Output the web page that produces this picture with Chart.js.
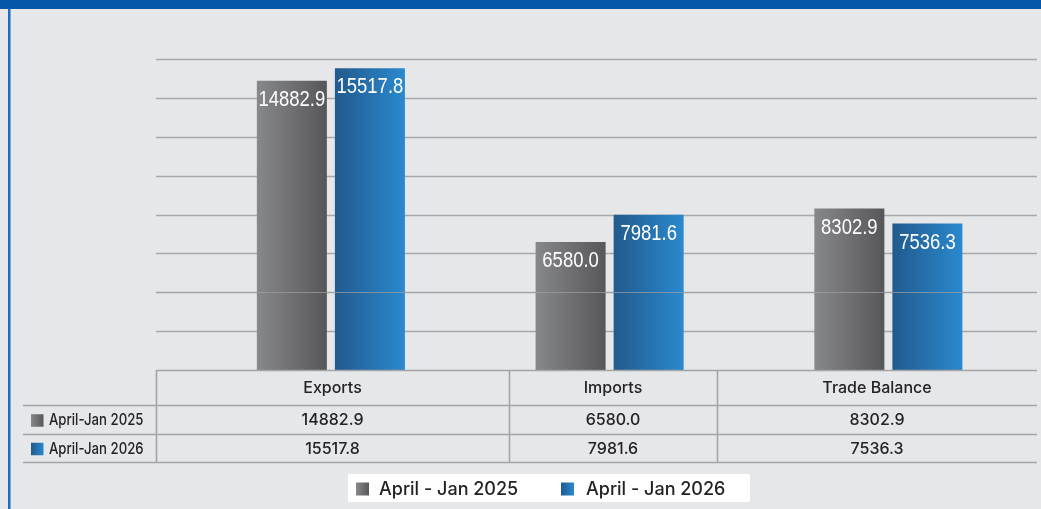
<!DOCTYPE html>
<html>
<head>
<meta charset="utf-8">
<script src="https://cdn.jsdelivr.net/npm/chart.js@4/dist/chart.umd.min.js"></script>
<style>
  html, body { margin: 0; padding: 0; background: #e6e7e9; }
  #wrap { position: relative; width: 1041px; height: 509px; overflow: hidden; }
  canvas { display: block; }
</style>
</head>
<body>
<div id="wrap"><canvas id="c" width="1041" height="509"></canvas></div>
<script>
const categories = ["Exports", "Imports", "Trade Balance"];
const seriesNames = ["April-Jan 2025", "April-Jan 2026"];
const legendNames = ["April - Jan 2025", "April - Jan 2026"];
const values2025 = [14882.9, 6580.0, 8302.9];
const values2026 = [15517.8, 7981.6, 7536.3];
const yTicks = [0, 2000, 4000, 6000, 8000, 10000, 12000, 14000, 16000];

const CAT_PCT = 0.56, BAR_PCT = 0.897;

function grayGrad(ctx, x0, x1) {
  const g = ctx.createLinearGradient(x0, 0, x1, 0);
  g.addColorStop(0, '#87888c');
  g.addColorStop(1, '#575759');
  return g;
}
function blueGrad(ctx, x0, x1) {
  const g = ctx.createLinearGradient(x0, 0, x1, 0);
  g.addColorStop(0, '#225a8e');
  g.addColorStop(1, '#2a89cd');
  return g;
}
function barBg(kind) {
  return function (context) {
    const chart = context.chart;
    const xs = chart.scales && chart.scales.x;
    if (!chart.chartArea || !xs || context.dataIndex === undefined) {
      return kind === 'g' ? '#6e6e70' : '#2571ae';
    }
    const n = chart.data.labels.length;
    const catW = xs.width / n;
    const chunk = catW * CAT_PCT / 2;
    const barW = chunk * BAR_PCT;
    const center = xs.getPixelForValue(context.dataIndex) + (context.datasetIndex - 0.5) * chunk;
    return kind === 'g' ? grayGrad(chart.ctx, center - barW / 2, center + barW / 2)
                        : blueGrad(chart.ctx, center - barW / 2, center + barW / 2);
  };
}

const frame = {
  id: 'frame',
  beforeDraw(chart) {
    const ctx = chart.ctx;
    ctx.save();
    ctx.fillStyle = '#e6e7e9';
    ctx.fillRect(0, 0, chart.width, chart.height);
    ctx.fillStyle = '#0558a9';
    ctx.fillRect(0, 0, chart.width, 9);
    ctx.fillStyle = '#1d6cc0';
    ctx.fillRect(8, 9, 2.5, chart.height - 9);
    ctx.restore();
  }
};

const GRID_L = 156, GRID_R = 1037;
const grid = {
  id: 'gridl',
  beforeDatasetsDraw(chart) {
    const ctx = chart.ctx, y = chart.scales.y;
    ctx.save();
    ctx.strokeStyle = '#a7a8aa';
    ctx.lineWidth = 1.6;
    yTicks.forEach(v => {
      if (v === 0) return;
      const py = Math.round(y.getPixelForValue(v)) + 0.5;
      ctx.beginPath(); ctx.moveTo(GRID_L, py); ctx.lineTo(GRID_R, py); ctx.stroke();
    });
    ctx.restore();
  },
  afterDatasetsDraw(chart) {
    const ctx = chart.ctx, y = chart.scales.y;
    ctx.save();
    ctx.strokeStyle = 'rgba(160,160,162,0.7)';
    ctx.lineWidth = 1.2;
    const py = Math.round(y.getPixelForValue(yTicks[2])) + 0.5;
    ctx.beginPath(); ctx.moveTo(GRID_L, py); ctx.lineTo(GRID_R, py); ctx.stroke();
    ctx.restore();
  }
};

const labels = {
  id: 'barLabels',
  afterDatasetsDraw(chart) {
    const ctx = chart.ctx;
    chart.data.datasets.forEach((ds, di) => {
      chart.getDatasetMeta(di).data.forEach((bar, i) => {
        ctx.save();
        ctx.translate(bar.x, bar.y + 19);
        ctx.scale(0.84, 1);
        ctx.fillStyle = '#ffffff';
        ctx.font = '22px "Liberation Sans", Arial, sans-serif';
        ctx.textAlign = 'center';
        ctx.textBaseline = 'middle';
        ctx.fillText(ds.data[i].toFixed(1), 0, 0);
        ctx.restore();
      });
    });
  }
};

const table = {
  id: 'dataTable',
  afterDraw(chart) {
    const ctx = chart.ctx;
    const yBase = chart.scales.y.getPixelForValue(0);
    const rows = [yBase, 405, 434, 462];
    const cols = [156, 509, 717, GRID_R];
    const left = 23;
    ctx.save();
    ctx.strokeStyle = '#a4a5a7';
    ctx.lineWidth = 1.6;
    ctx.beginPath(); ctx.moveTo(cols[0], Math.round(rows[0]) + 0.5); ctx.lineTo(GRID_R, Math.round(rows[0]) + 0.5); ctx.stroke();
    for (let r = 1; r < rows.length; r++) {
      ctx.beginPath(); ctx.moveTo(left, rows[r] + 0.5); ctx.lineTo(GRID_R, rows[r] + 0.5); ctx.stroke();
    }
    for (let c = 0; c < 3; c++) {
      ctx.beginPath(); ctx.moveTo(cols[c] + 0.5, rows[0]); ctx.lineTo(cols[c] + 0.5, rows[3]); ctx.stroke();
    }
    ctx.fillStyle = '#232325';
    ctx.textAlign = 'center';
    ctx.textBaseline = 'middle';
    ctx.font = '500 16px "Inter", "Open Sans", sans-serif';
    for (let c = 0; c < 3; c++) {
      const cx = (cols[c] + cols[c + 1]) / 2;
      ctx.fillText(categories[c], cx, (rows[0] + rows[1]) / 2 + 1);
      ctx.fillText(values2025[c].toFixed(1), cx, (rows[1] + rows[2]) / 2 + 1);
      ctx.fillText(values2026[c].toFixed(1), cx, (rows[2] + rows[3]) / 2 + 1);
    }
    seriesNames.forEach((name, k) => {
      const cy = (rows[k + 1] + rows[k + 2]) / 2 + 1;
      const sx = 31, sz = 12.5;
      ctx.fillStyle = k === 0 ? grayGrad(ctx, sx, sx + sz) : blueGrad(ctx, sx, sx + sz);
      ctx.fillRect(sx, cy - sz / 2, sz, sz);
      ctx.save();
      ctx.translate(49, cy);
      ctx.scale(0.8, 1);
      ctx.fillStyle = '#232325';
      ctx.textAlign = 'left';
      ctx.font = '500 16.5px "Inter", "Open Sans", sans-serif';
      ctx.fillText(name, 0, 0);
      ctx.restore();
    });
    ctx.fillStyle = '#ffffff';
    ctx.fillRect(348, 474, 402, 28);
    const ly = 489;
    const items = [{ x: 356, tx: 379, k: 0 }, { x: 561, tx: 586, k: 1 }];
    items.forEach(it => {
      const sz = 13;
      ctx.fillStyle = it.k === 0 ? grayGrad(ctx, it.x, it.x + sz) : blueGrad(ctx, it.x, it.x + sz);
      ctx.fillRect(it.x, ly - sz / 2, sz, sz);
      ctx.fillStyle = '#232325';
      ctx.textAlign = 'left';
      ctx.font = '500 18px "Inter", "Open Sans", sans-serif';
      ctx.fillText(legendNames[it.k], it.tx, ly + 1);
    });
    ctx.restore();
  }
};

new Chart(document.getElementById('c'), {
  type: 'bar',
  data: {
    labels: categories,
    datasets: [
      { label: seriesNames[0], data: values2025, backgroundColor: barBg('g'), borderWidth: 0 },
      { label: seriesNames[1], data: values2026, backgroundColor: barBg('b'), borderWidth: 0 }
    ]
  },
  options: {
    responsive: false,
    animation: false,
    devicePixelRatio: 1,
    categoryPercentage: CAT_PCT,
    barPercentage: BAR_PCT,
    layout: { padding: { left: 191.5, right: 13.25, top: 59, bottom: 139 } },
    plugins: { legend: { display: false }, tooltip: { enabled: false } },
    scales: {
      x: { display: false },
      y: { display: false, min: 0, max: 16000 }
    }
  },
  plugins: [frame, grid, labels, table]
});
</script>
</body>
</html>
